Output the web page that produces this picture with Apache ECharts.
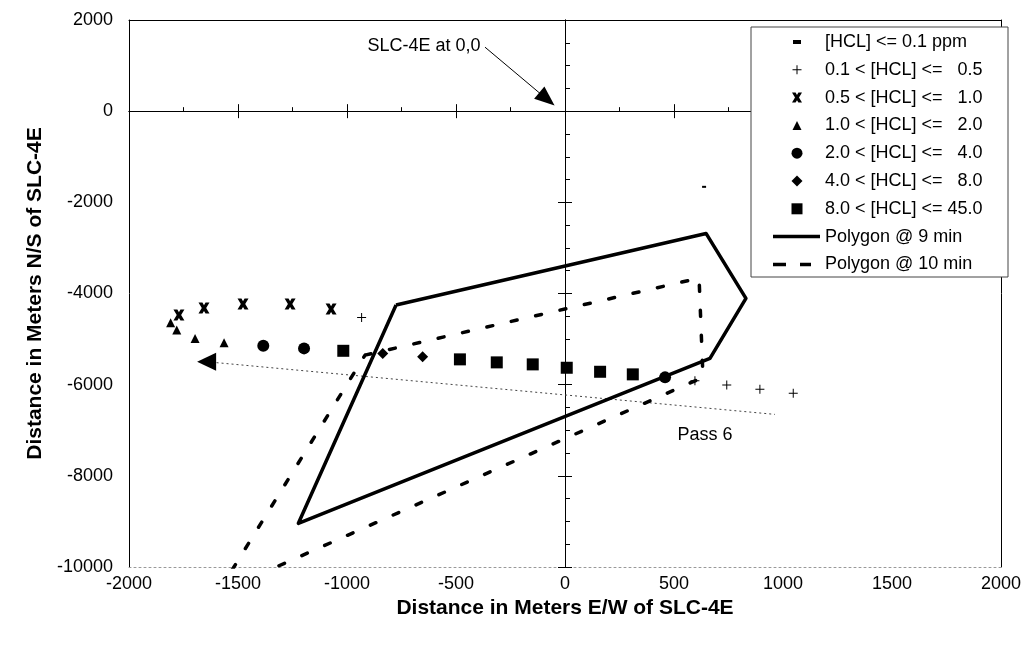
<!DOCTYPE html>
<html><head><meta charset="utf-8">
<script src="https://cdn.jsdelivr.net/npm/echarts@6/dist/echarts.min.js"></script>
<style>html,body{margin:0;padding:0;background:#fff}#c{width:1033px;height:646px}</style>
</head><body><div id="c"></div>
<script>
// ---- axis ranges / ticks ----
const X_MIN = -2000, X_MAX = 2000, X_STEP = 500;
const Y_MIN = -10000, Y_MAX = 2000, Y_STEP = 2000;

// ---- series data [x, y] in meters ----
const lowPts  = [[638, -1660]];
const plusPts = [[-933, -4524], [596, -5914], [742, -6009], [894, -6103], [1047, -6191]];
const xPts    = [[-1771, -4474], [-1656, -4320], [-1477, -4233], [-1261, -4233], [-1073, -4342]];
const triPts  = [[-1809, -4643], [-1781, -4803], [-1697, -4985], [-1564, -5081]];
const circPts = [[-1384, -5147], [-1197, -5204], [459, -5840]];
const diaPts  = [[-836, -5314], [-653, -5388]];
const sqPts   = [[-1017, -5257], [-482, -5445], [-313, -5511], [-148, -5555], [8, -5629], [161, -5717], [311, -5774]];
const poly9   = [[-775, -4254], [647, -2682], [830, -4108], [665, -5424], [-1223, -9042], [-775, -4254]];
const poly10  = [[-917, -5351], [615, -3662], [633, -5838], [-1592, -10568], [-917, -5351]];
const pass6   = [[-1644, -5497], [963, -6652]];
const annotArrow = [[-367, 1404], [-83, 263]];
const textNotes = [{name: 'SLC-4E at 0,0', value: [-647, 1425]}, {name: 'Pass 6', value: [642, -7105]}];

const names = [
  '[HCL] <= 0.1 ppm',
  '0.1 < [HCL] <=   0.5',
  '0.5 < [HCL] <=   1.0',
  '1.0 < [HCL] <=   2.0',
  '2.0 < [HCL] <=   4.0',
  '4.0 < [HCL] <=   8.0',
  '8.0 < [HCL] <= 45.0',
  'Polygon @ 9 min',
  'Polygon @ 10 min'
];

const FONT = 'Liberation Sans, Arial, Helvetica, sans-serif';
const SYM = {
  dash: 'path://M0,0 H8 V4 H0 Z',
  plus: 'path://M4,0 H5 V4 H9 V5 H5 V9 H4 V5 H0 V4 H4 Z',
  x: 'path://M0,0 L3.6,0 L5,2.4 L6.4,0 L10,0 L7,5 L10,10 L6.4,10 L5,7.6 L3.6,10 L0,10 L3,5 Z',
  tri: 'path://M5,0 L10,10 L0,10 Z',
  circ: 'circle',
  dia: 'path://M5,0 L10,5 L5,10 L0,5 Z',
  sq: 'path://M0,0 H10 V10 H0 Z',
  leftArrow: 'path://M0,5 L10,0 L10,10 Z',
  lineSolid: 'path://M0,0 H47 V3.5 H0 Z',
  lineDash: 'path://M0,0 H13 V3.5 H0 Z M27,0 H38 V3.5 H27 Z M46.9,1.7 H47 V1.8 H46.9 Z'
};

// icon w = drawn width in the legend (used to centre icons at the same x)
const scatterDefs = [
  {name: names[0], data: lowPts,  symbol: SYM.dash, size: [4, 2],   lh: 4,  w: 8},
  {name: names[1], data: plusPts, symbol: SYM.plus, size: [9, 9],   lh: 9,  w: 9},
  {name: names[2], data: xPts,    symbol: SYM.x,    size: [11, 11], lh: 10, w: 10},
  {name: names[3], data: triPts,  symbol: SYM.tri,  size: [9, 9],   lh: 9,  w: 9},
  {name: names[4], data: circPts, symbol: SYM.circ, size: 12,       lh: 11, w: 11},
  {name: names[5], data: diaPts,  symbol: SYM.dia,  size: [11, 11], lh: 11, w: 11},
  {name: names[6], data: sqPts,   symbol: SYM.sq,   size: [12, 12], lh: 11, w: 11}
];

const series = [];
scatterDefs.forEach(d => series.push({
  type: 'scatter', name: d.name, data: d.data, symbol: d.symbol, symbolSize: d.size,
  itemStyle: {color: '#000', opacity: 1}, z: 4, silent: true
}));
series.push({type: 'line', name: names[7], data: poly9, symbol: 'none', clip: true, z: 3,
  lineStyle: {color: '#000', width: 3.5, type: 'solid', join: 'round'}, itemStyle: {color: '#000'}, silent: true});
series.push({type: 'line', name: names[8], data: poly10, symbol: 'none', clip: true, z: 3,
  lineStyle: {color: '#000', width: 3.5, type: [6, 19], cap: 'round'}, itemStyle: {color: '#000'}, silent: true});
series.push({type: 'line', name: 'Pass 6 track', data: pass6, symbol: 'none', clip: true, z: 2,
  lineStyle: {color: '#444', width: 1, type: [2, 3]}, silent: true});
series.push({type: 'scatter', name: 'Pass 6 arrow', data: [pass6[0]], symbol: SYM.leftArrow, symbolSize: [19, 18],
  itemStyle: {color: '#000', opacity: 1}, z: 4, silent: true});
series.push({type: 'scatter', name: 'notes', data: textNotes, symbolSize: 0, silent: true, z: 5,
  itemStyle: {color: '#000', opacity: 1},
  label: {show: true, position: 'inside', formatter: '{b}', color: '#000', opacity: 1, fontSize: 18, fontFamily: FONT},
  markLine: {silent: true, animation: false, symbol: ['none', 'triangle'], symbolSize: [16, 20],
    label: {show: false}, lineStyle: {color: '#000', width: 1, type: 'solid', opacity: 1},
    itemStyle: {color: '#000', opacity: 1},
    data: [[{coord: annotArrow[0]}, {coord: annotArrow[1]}]]}
});

const rowY0 = 42, rowStep = 27.8, ICON_CX = 797;
const legends = names.map((n, i) => {
  const isLine = i >= 7;
  const def = scatterDefs[i];
  return {
    show: true, selectedMode: false, padding: 0, orient: 'horizontal',
    left: isLine ? 773 : ICON_CX - def.w / 2, top: rowY0 + rowStep * i - 14,
    itemWidth: isLine ? 47 : 46, itemHeight: isLine ? 10 : def.lh,
    data: [{name: n, icon: isLine ? (i === 7 ? SYM.lineSolid : SYM.lineDash) : def.symbol}],
    textStyle: {fontSize: 18, color: '#000', fontFamily: FONT, lineHeight: 28},
    z: 6
  };
});

const numFmt = v => String(v);
const baseX = {type: 'value', min: X_MIN, max: X_MAX, interval: X_STEP, splitLine: {show: false}, axisLabel: {show: false}, axisTick: {show: false}};
const baseY = {type: 'value', min: Y_MIN, max: Y_MAX, interval: Y_STEP, splitLine: {show: false}, axisLabel: {show: false}, axisTick: {show: false}};

const option = {
  animation: false,
  backgroundColor: '#fff',
  grid: {left: 129, right: 32, top: 20, bottom: 79, outerBoundsMode: 'none', containLabel: false},
  xAxis: [
    Object.assign({}, baseX, {position: 'bottom',
      axisLine: {show: true, onZero: false, lineStyle: {color: '#999', width: 1, type: [2, 3]}},
      axisLabel: {show: true, fontSize: 18, color: '#000', fontFamily: FONT, margin: 8, formatter: numFmt},
      name: 'Distance in Meters E/W of SLC-4E', nameLocation: 'middle', nameGap: 29,
      nameTextStyle: {fontSize: 21, fontWeight: 'bold', color: '#000', fontFamily: FONT}}),
    Object.assign({}, baseX, {position: 'top', axisLine: {show: true, onZero: false, lineStyle: {color: '#000', width: 1}}}),
    Object.assign({}, baseX, {position: 'top', axisLine: {show: true, onZero: true, onZeroAxisIndex: 0, lineStyle: {color: '#000', width: 1}},
      axisTick: {show: true, length: 7, lineStyle: {color: '#000'}},
      minorTick: {show: true, splitNumber: 2, length: 4, lineStyle: {color: '#000'}}, minorSplitLine: {show: false}}),
    Object.assign({}, baseX, {position: 'bottom', axisLine: {show: true, onZero: true, onZeroAxisIndex: 0, lineStyle: {color: '#000', width: 1}},
      axisTick: {show: true, length: 7, lineStyle: {color: '#000'}}})
  ],
  yAxis: [
    Object.assign({}, baseY, {position: 'left',
      axisLine: {show: true, onZero: false, lineStyle: {color: '#000', width: 1}},
      axisLabel: {show: true, fontSize: 18, color: '#000', fontFamily: FONT, margin: 16, formatter: numFmt},
      name: 'Distance in Meters N/S of SLC-4E', nameLocation: 'middle', nameGap: 66, nameRotate: 90,
      nameTextStyle: {fontSize: 21, fontWeight: 'bold', color: '#000', fontFamily: FONT}}),
    Object.assign({}, baseY, {position: 'right', axisLine: {show: true, onZero: false, lineStyle: {color: '#000', width: 1}}}),
    Object.assign({}, baseY, {position: 'right', axisLine: {show: true, onZero: true, onZeroAxisIndex: 0, lineStyle: {color: '#000', width: 1}},
      axisTick: {show: true, length: 7, lineStyle: {color: '#000'}},
      minorTick: {show: true, splitNumber: 4, length: 5, lineStyle: {color: '#000'}}, minorSplitLine: {show: false}}),
    Object.assign({}, baseY, {position: 'left', axisLine: {show: true, onZero: true, onZeroAxisIndex: 0, lineStyle: {color: '#000', width: 1}},
      axisTick: {show: true, length: 7, lineStyle: {color: '#000'}}})
  ],
  legend: legends,
  graphic: {elements: [{type: 'rect', z: 5, silent: true,
    shape: {x: 751, y: 27, width: 257, height: 250},
    style: {fill: '#fff', stroke: '#444', lineWidth: 1}}]},
  series: series
};

const chart = echarts.init(document.getElementById('c'), null, {renderer: 'canvas'});
chart.setOption(option);
</script>
</body></html>
